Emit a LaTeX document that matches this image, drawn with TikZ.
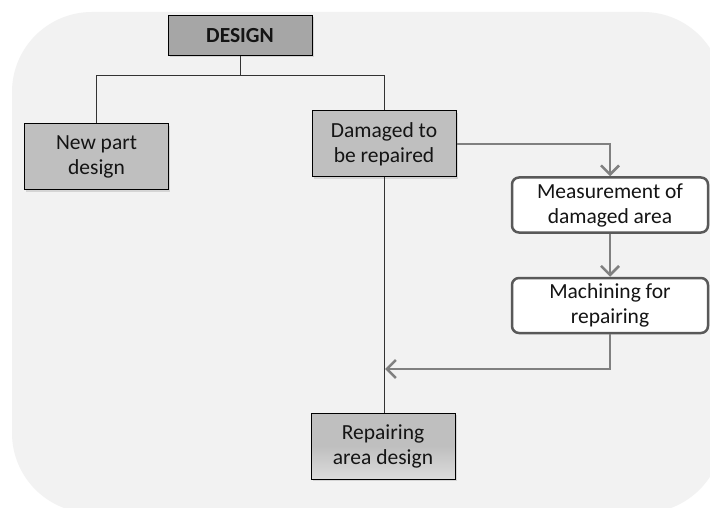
\documentclass[tikz,border=0pt]{standalone}
\usepackage{fontspec}
\setmainfont{Carlito}
\usetikzlibrary{arrows.meta,shadows,positioning}
\definecolor{panel}{HTML}{F2F2F2}
\definecolor{boxdark}{HTML}{A6A6A6}
\definecolor{boxlight}{HTML}{BFBFBF}
\definecolor{flow}{HTML}{808080}
\definecolor{frameline}{HTML}{595959}
\tikzset{
  x=1pt, y=-1pt,
  boxfont/.style={font=\fontsize{21.5}{25}\selectfont},
  graybox/.style={draw=black, line width=1pt, fill=boxlight, minimum width=144pt,
    minimum height=66pt, align=center, text=black!92, boxfont,
    drop shadow={opacity=0.25, shadow xshift=1.5pt, shadow yshift=-2pt}},
  topbox/.style={graybox, fill=boxdark, minimum height=40pt,
    font=\fontsize{21.5}{25}\selectfont\bfseries},
  stagebox/.style={draw=frameline, line width=2.5pt, fill=white, rounded corners=7pt,
    minimum width=196pt, minimum height=55pt, align=center, text=black!92, boxfont},
  tree/.style={draw=black!80, line width=1pt},
  flowline/.style={draw=flow, line width=2.5pt,
    -{Straight Barb[length=9pt,width=18pt,line width=2.5pt]}},
}
\begin{document}
\begin{tikzpicture}
  % canvas and rounded panel
  \useasboundingbox (0,0) rectangle (710,508);
  \begin{scope}
    \clip (0,0) rectangle (710,508);
    \fill[white] (0,0) rectangle (710,508);
    \fill[panel, rounded corners=80pt] (12,12) rectangle (723,513);
  \end{scope}

  % boxes
  \node[topbox] (design) at (240,35.5) {DESIGN};
  \node[graybox] (newpart) at (96.5,157) {New part\\design};
  \node[graybox] (damaged) at (384,144) {Damaged to\\be repaired};
  \node[stagebox] (measure) at (610,205) {Measurement of\\damaged area};
  \node[stagebox] (machine) at (610,305.5) {Machining for\\repairing};
  \node[graybox, top color=boxlight, bottom color=boxlight!55!white, middle color=boxlight]
    (repair) at (383,446) {Repairing\\area design};

  % tree connectors
  \coordinate (split) at (240,75.5);
  \draw[tree] (design.south) -- (split);
  \draw[tree] (newpart.north) |- (split) -| (damaged.north);
  \draw[tree] (damaged.south) -- (damaged.south |- repair.north);

  % repair process flow
  \coordinate (join) at (385,369);
  \draw[flowline] (damaged.east) -| (measure.north);
  \draw[flowline] (measure.south) -- (machine.north);
  \draw[flowline] (machine.south) |- (join);
\end{tikzpicture}
\end{document}
